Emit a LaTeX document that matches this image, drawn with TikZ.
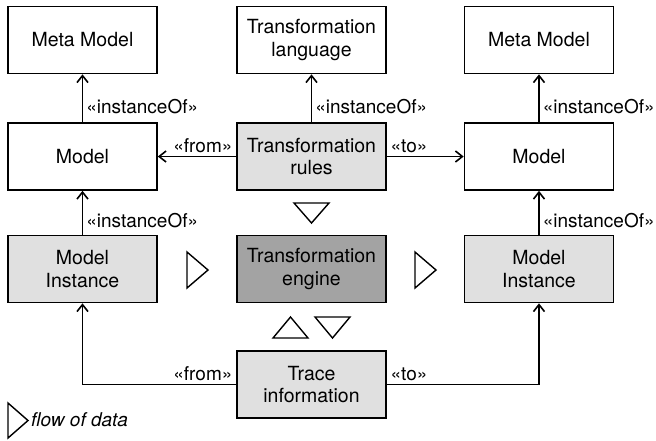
\documentclass[tikz,border=0pt]{standalone}
\usepackage{fontspec}
\setmainfont{TeX Gyre Heros}
\usetikzlibrary{arrows.meta}
\definecolor{lightfill}{HTML}{E0E0E0}
\definecolor{darkfill}{HTML}{A3A3A3}
\tikzset{
  box/.style={draw=black, line width=1.6pt, minimum width=149pt, minimum height=67pt,
    inner sep=0pt, align=center, font=\fontsize{19.5}{22.5}\selectfont},
  light/.style={box, fill=lightfill},
  dark/.style={box, fill=darkfill},
  conn/.style={line width=1.6pt, -{Straight Barb[length=7pt,width=11pt,line width=1.6pt]}},
  lbl/.style={font=\fontsize{19}{21}\selectfont, inner sep=3pt},
  tri/.style={draw=black, line width=1.4pt, fill=white, line join=miter},
}
\begin{document}
\begin{tikzpicture}[x=1pt,y=-1pt]
\useasboundingbox (0,0) rectangle (656,440);
% row 1
\node[box] (mmL) at (82.5,40) {Meta Model};
\node[box] (tl) at (311.5,40) {Transformation\\language};
\node[box] (mmR) at (539,40) {Meta Model};
% row 2
\node[box] (mL) at (82.5,156.5) {Model};
\node[light] (tr) at (311.5,156.5) {Transformation\\rules};
\node[box] (mR) at (539,156.5) {Model};
% row 3
\node[light] (miL) at (82.5,269) {Model\\Instance};
\node[dark] (te) at (311.5,269) {Transformation\\engine};
\node[light] (miR) at (539,269) {Model\\Instance};
% row 4
\node[light] (ti) at (311.5,384.5) {Trace\\information};

% instanceOf arrows
\draw[conn] (mL.north) -- node[lbl, pos=0.32, anchor=west] {«instanceOf»} (mmL.south);
\draw[conn] (tr.north) -- node[lbl, pos=0.32, anchor=west] {«instanceOf»} (tl.south);
\draw[conn] (mR.north) -- node[lbl, pos=0.32, anchor=west] {«instanceOf»} (mmR.south);
\draw[conn] (miL.north) -- node[lbl, pos=0.32, anchor=west] {«instanceOf»} (mL.south);
\draw[conn] (miR.north) -- node[lbl, pos=0.32, anchor=west] {«instanceOf»} (mR.south);

% from / to
\draw[conn] (tr.west) -- node[lbl, pos=0, anchor=south east] {«from»} (mL.east);
\draw[conn] (tr.east) -- node[lbl, pos=0, anchor=south west] {«to»} (mR.west);
\draw[conn] (ti.west) -- node[lbl, pos=0, anchor=south east] {«from»} (ti.west -| miL.south) -- (miL.south);
\draw[conn] (ti.east) -- node[lbl, pos=0, anchor=south west] {«to»} (ti.east -| miR.south) -- (miR.south);

% flow triangles
\draw[tri] (294,203) -- (329,203) -- (311.5,223) -- cycle;
\draw[tri] (187,252) -- (208,270) -- (187,288) -- cycle;
\draw[tri] (415,252) -- (436,270) -- (415,288) -- cycle;
\draw[tri] (273,338) -- (308,338) -- (290.5,317) -- cycle;
\draw[tri] (315,317) -- (350,317) -- (332.5,338) -- cycle;

% legend
\draw[tri] (8,403) -- (28,420.5) -- (8,438) -- cycle;
\node[anchor=west, inner sep=0pt, font=\fontsize{19}{21}\selectfont\itshape] (leg) at (31,420) {flow of data};
\end{tikzpicture}
\end{document}
